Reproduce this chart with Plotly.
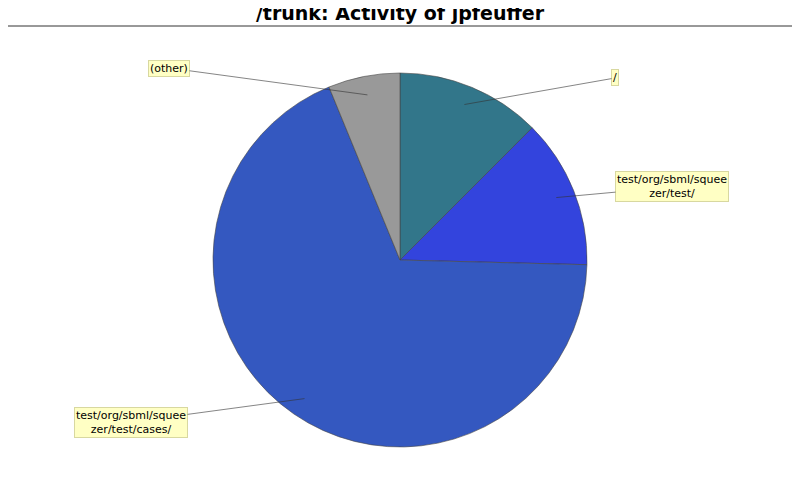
import math
import plotly.graph_objects as go

labels = ["/", "test/org/sbml/squee<br>zer/test/", "test/org/sbml/squee<br>zer/test/cases/", "(other)"]
values = [12.5, 12.9, 68.4, 6.2]
colors = ["#32768A", "#3344DD", "#3458C0", "#999999"]
# label box positions (pixels) in the 800x500 window
label_pos = [(615, 78), (672, 187), (131, 422), (169, 68)]

OFF = 8  # page body margin
W, H = 800 - 2 * OFF, 500 - 2 * OFF
cx, cy, r = 400 - OFF, 260 - OFF, 187

fig = go.Figure(go.Pie(
    labels=labels, values=values, sort=False, direction="clockwise", rotation=0,
    marker=dict(colors=colors, line=dict(color="#444444", width=0.6)),
    textinfo="none", hoverinfo="label+percent", showlegend=False,
    domain=dict(x=[(cx - r) / W, (cx + r) / W], y=[1 - (cy + r) / H, 1 - (cy - r) / H]),
))

annotations = []
total = sum(values)
acc = 0
for lab, v, (lx, ly) in zip(labels, values, label_pos):
    mid = (acc + v / 2) / total * 2 * math.pi
    acc += v
    px = cx + 0.9 * r * math.sin(mid)
    py = cy - 0.9 * r * math.cos(mid)
    annotations.append(dict(
        x=px / W, y=1 - py / H, xref="paper", yref="paper",
        ax=(lx - OFF) - px, ay=(ly - OFF) - py, text=lab, showarrow=True, arrowhead=0,
        arrowwidth=0.6, arrowcolor="#333333", standoff=0,
        font=dict(family="DejaVu Sans", size=11, color="black"),
        bgcolor="#FFFFC4", bordercolor="#D8D8A0", borderwidth=1, borderpad=1,
    ))

fig.update_layout(
    width=W, height=H, margin=dict(l=0, r=0, t=0, b=0),
    paper_bgcolor="white", plot_bgcolor="white",
    title=dict(text="<b>/trunk: Activity of jpfeuffer</b>", x=0.5, y=1 - (13 - OFF) / H,
               xanchor="center", yanchor="middle",
               font=dict(family="DejaVu Sans", size=19, color="black")),
    annotations=annotations,
    shapes=[dict(type="rect", xref="paper", yref="paper",
                 x0=(6 - OFF) / W, x1=(795 - OFF) / W,
                 y0=1 - (494 - OFF) / H, y1=1 - (26 - OFF) / H,
                 line=dict(color="#333333", width=1))],
)

fig.write_html("out.html")
